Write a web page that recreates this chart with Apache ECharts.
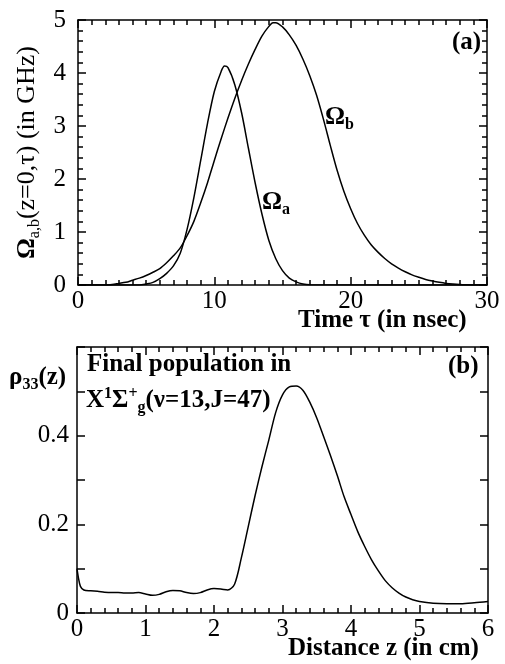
<!DOCTYPE html>
<html><head><meta charset="utf-8">
<script src="https://cdn.jsdelivr.net/npm/echarts@6/dist/echarts.min.js"></script>
<style>html,body{margin:0;padding:0;background:#fff}#c{width:505px;height:664px}</style>
</head><body><div id="c"></div>
<script>
// Panel (a): Rabi frequencies vs time
const timeA = [0,4.5,5,5.5,6,6.5,7,7.5,8,8.5,9,9.5,10,10.5,10.75,11,11.5,12,12.5,13,13.5,14,14.5,15,15.5,16,16.5,17,30];
const omegaA = [0,0,0.02,0.05,0.12,0.22,0.36,0.6,1.05,1.65,2.35,3.05,3.65,4.03,4.13,4.1,3.78,3.25,2.58,1.92,1.33,0.84,0.5,0.27,0.13,0.06,0.02,0.005,0];
const timeB = [0,2,2.5,3,3.5,4,4.5,5,5.5,6,6.5,7,7.5,8,8.5,9,9.5,10,10.5,11,11.5,12,12.5,13,13.5,14,14.3,14.5,15,15.5,16,16.5,17,17.5,18,18.5,19,19.5,20,20.5,21,21.5,22,22.5,23,23.5,24,24.5,25,25.5,26,26.5,27,27.5,28,28.5,29,30];
const omegaB = [0,0,0.01,0.03,0.05,0.09,0.13,0.18,0.24,0.31,0.42,0.55,0.7,0.93,1.2,1.55,1.93,2.35,2.76,3.15,3.52,3.86,4.17,4.45,4.7,4.88,4.95,4.95,4.87,4.72,4.52,4.26,3.95,3.58,3.13,2.64,2.17,1.77,1.44,1.16,0.94,0.76,0.62,0.5,0.4,0.32,0.25,0.19,0.145,0.105,0.075,0.05,0.03,0.017,0.008,0.003,0,0];
const xTicksA = [0,10,20,30];
const yTicksA = [0,1,2,3,4,5];
// Panel (b): final population vs distance
const distZ = [0,0.02,0.05,0.1,0.2,0.3,0.4,0.5,0.6,0.7,0.8,0.9,1.0,1.1,1.2,1.3,1.4,1.5,1.6,1.7,1.8,1.9,2.0,2.1,2.2,2.3,2.4,2.5,2.6,2.7,2.8,2.9,3.0,3.1,3.2,3.3,3.4,3.5,3.6,3.7,3.8,3.9,4.0,4.1,4.2,4.3,4.4,4.5,4.6,4.7,4.8,4.9,5.0,5.2,5.4,5.6,5.8,6.0];
const rho33 = [0.1,0.08,0.06,0.052,0.05,0.049,0.047,0.046,0.046,0.045,0.045,0.046,0.043,0.04,0.042,0.048,0.051,0.05,0.046,0.044,0.046,0.052,0.055,0.054,0.052,0.065,0.125,0.195,0.265,0.33,0.39,0.452,0.492,0.51,0.512,0.502,0.475,0.44,0.398,0.355,0.31,0.262,0.222,0.183,0.15,0.12,0.095,0.073,0.057,0.045,0.036,0.03,0.026,0.022,0.021,0.021,0.023,0.026];
const xTicksB = [0,1,2,3,4,5,6];
const yTicksB = ['0','0.2','0.4'];

const FONT = '"Liberation Serif", "Times New Roman", serif';
const pairs = (xs, ys) => xs.map((x, i) => [x, ys[i]]);
const R = {
  o: { fontFamily: FONT, fontSize: 26, fontWeight: 'bold', lineHeight: 30, verticalAlign: 'middle', color: '#000' },
  n: { fontFamily: FONT, fontSize: 26, lineHeight: 30, verticalAlign: 'middle', color: '#000' },
  m: { fontFamily: FONT, fontSize: 25, lineHeight: 30, verticalAlign: 'middle', color: '#000' },
  s: { fontFamily: FONT, fontSize: 16, lineHeight: 12, verticalAlign: 'bottom', color: '#000' },
  p: { fontFamily: FONT, fontSize: 16, lineHeight: 14, verticalAlign: 'top', color: '#000' }
};

// Axis with major and minor ticks pointing inside
function axis(grid, pos, min, max, interval, split, formatter, margin) {
  return {
    type: 'value', gridIndex: grid, position: pos, min: min, max: max, interval: interval,
    axisLine: { show: true, onZero: false, lineStyle: { color: '#000', width: 1.5 } },
    axisTick: { show: true, inside: true, length: 8, lineStyle: { color: '#000', width: 1.5 } },
    minorTick: split > 1 ? { show: true, splitNumber: split, length: 5, lineStyle: { color: '#000', width: 1.5 } } : { show: false },
    splitLine: { show: false },
    axisLabel: formatter ? { show: true, color: '#000', fontFamily: FONT, fontSize: 25, margin: margin, formatter: formatter } : { show: false }
  };
}
const fmtB = v => { const r = Math.round(v * 10) / 10; const s = r === 0 ? '0' : r.toFixed(1); return yTicksB.includes(s) ? s : ''; };
const fmtInt = list => v => list.includes(Math.round(v)) ? String(Math.round(v)) : '';
function label(left, top, text) {
  return { left: left, top: top, padding: 0, itemGap: 0, text: text, textStyle: { rich: R, color: '#000' } };
}

const yA = axis(0, 'left', 0, 5, 1, 5, fmtInt(yTicksA), 12);
yA.name = '{o|Ω}{s|a,b}{n|(z=0,τ) (in GHz)}';
yA.nameLocation = 'middle';
yA.nameRotate = 90;
yA.nameGap = 33;
yA.nameTextStyle = { rich: R, color: '#000' };

const chart = echarts.init(document.getElementById('c'));
const lineStyle = { color: '#000', width: 1.5 };
chart.setOption({
  animation: false,
  title: [
    label(298, 306, '{m|Time τ (in nsec)}'),
    label(288, 634, '{m|Distance z (in cm)}'),
    label(452, 28, '{m|(a)}'),
    label(448, 352, '{m|(b)}'),
    label(325, 103, '{m|Ω}{s|b}'),
    label(262, 188, '{m|Ω}{s|a}'),
    label(9, 363, '{m|ρ}{s|33}{m|(z)}'),
    label(87, 350, '{m|Final population in}'),
    label(86, 386, '{m|X}{p|1}{m|Σ}{p|+}{s|g}{m|(ν=13,J=47)}')
  ],
  grid: [
    { left: 78, top: 20, width: 409, height: 265 },
    { left: 77, top: 347, width: 411, height: 266 }
  ],
  xAxis: [
    axis(0, 'bottom', 0, 30, 10, 10, fmtInt(xTicksA), 4),
    axis(0, 'top', 0, 30, 10, 10, null, 0),
    axis(1, 'bottom', 0, 6, 1, 5, fmtInt(xTicksB), 4),
    axis(1, 'top', 0, 6, 1, 5, null, 0)
  ],
  yAxis: [
    yA,
    axis(0, 'right', 0, 5, 1, 5, null, 0),
    axis(1, 'left', 0, 0.6, 0.1, 1, fmtB, 8),
    axis(1, 'right', 0, 0.6, 0.1, 1, null, 0)
  ],
  series: [
    { type: 'line', xAxisIndex: 0, yAxisIndex: 0, data: pairs(timeA, omegaA), showSymbol: false, smooth: 0.3, lineStyle: lineStyle, silent: true },
    { type: 'line', xAxisIndex: 0, yAxisIndex: 0, data: pairs(timeB, omegaB), showSymbol: false, smooth: 0.3, lineStyle: lineStyle, silent: true },
    { type: 'line', xAxisIndex: 2, yAxisIndex: 2, data: pairs(distZ, rho33), showSymbol: false, smooth: 0.3, lineStyle: lineStyle, silent: true }
  ]
});
</script></body></html>
